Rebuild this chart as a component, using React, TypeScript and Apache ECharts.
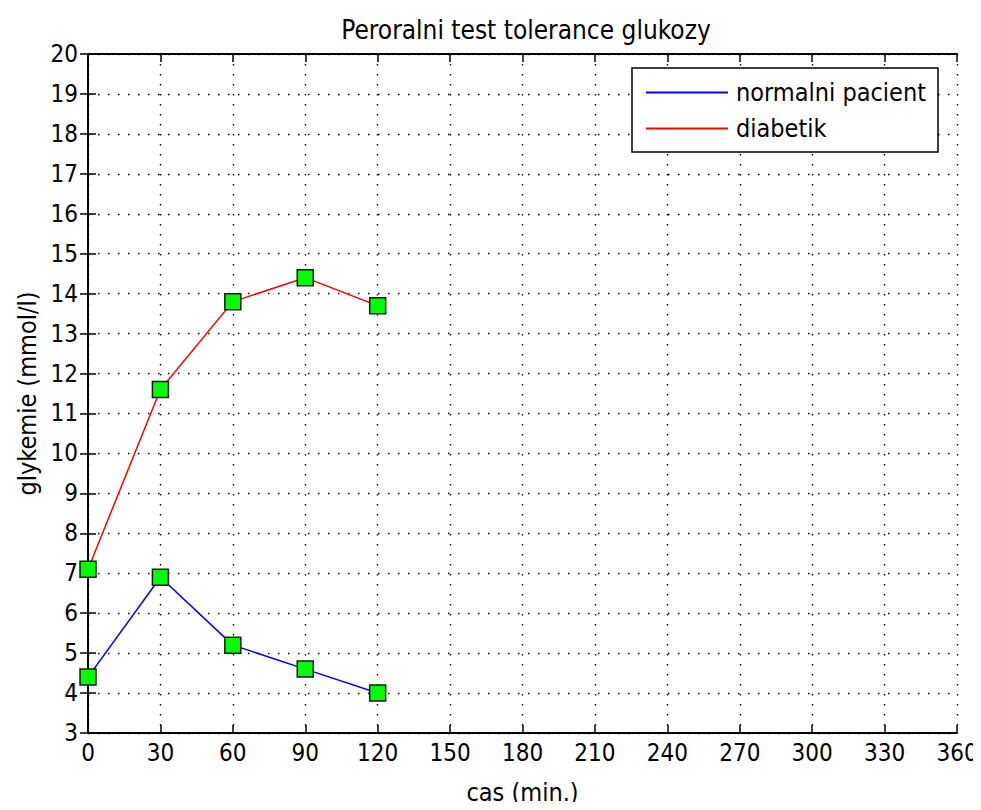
import React, { useEffect, useRef } from "react";
import * as echarts from "echarts";

const timeMinutes = [0, 30, 60, 90, 120];
const normalValues = [4.4, 6.9, 5.2, 4.6, 4.0];
const diabeticValues = [7.1, 11.6, 13.8, 14.4, 13.7];
const seriesNames = ["normalni pacient", "diabetik"];
const titleText = "Peroralni test tolerance glukozy";
const xAxisName = "cas (min.)";
const yAxisName = "glykemie (mmol/l)";

const FONT = "'DejaVu Sans Condensed', 'DejaVu Sans', sans-serif";
const FS = 24;
const FS_TEXT = 25;

export default function App() {
  const ref = useRef<HTMLDivElement>(null);
  useEffect(() => {
    if (!ref.current) return;
    const chart = echarts.init(ref.current, undefined, { renderer: "svg" });
    const axisLine = { show: true, lineStyle: { color: "#000", width: 2 } };
    const axisTick = { show: true, inside: true, length: 8, lineStyle: { color: "#000", width: 1.5 } };
    const gridLine = { show: true, lineStyle: { color: "#000", width: 1.4, type: [1.5, 8.5] } };
    const markerStyle = { color: "#00ff00", borderColor: "#1a1a1a", borderWidth: 1.5 };
    chart.setOption({
      animation: false,
      backgroundColor: "#fff",
      textStyle: { fontFamily: FONT, color: "#000" },
      title: {
        text: titleText,
        left: 521,
        textAlign: "center",
        top: 12,
        textStyle: { fontFamily: FONT, fontSize: FS_TEXT + 1, fontWeight: "normal", color: "#000" },
      },
      grid: { left: 88, top: 54, right: 24, bottom: 71, containLabel: false },
      legend: {
        show: true,
        orient: "vertical",
        left: 632,
        top: 68,
        padding: [12, 12, 11, 14],
        itemGap: 11,
        itemWidth: 82,
        itemHeight: 2,
        borderColor: "#000",
        borderWidth: 1.5,
        backgroundColor: "#fff",
        textStyle: { fontFamily: FONT, fontSize: FS_TEXT, color: "#000", padding: [0, 0, 0, 3] },
        data: [
          { name: seriesNames[0], icon: "rect", itemStyle: { color: "#0000ff", borderWidth: 0 } },
          { name: seriesNames[1], icon: "rect", itemStyle: { color: "#ff0000", borderWidth: 0 } },
        ],
      },
      xAxis: [
        {
          type: "value",
          min: 0,
          max: 360,
          interval: 30,
          position: "bottom",
          name: xAxisName,
          nameLocation: "middle",
          nameGap: 47,
          nameTextStyle: { fontFamily: FONT, fontSize: FS_TEXT, color: "#000" },
          axisLine,
          axisTick,
          axisLabel: { fontFamily: FONT, fontSize: FS, color: "#000", margin: 8 },
          splitLine: gridLine,
        },
        {
          type: "value",
          min: 0,
          max: 360,
          interval: 30,
          position: "top",
          axisLine,
          axisTick,
          axisLabel: { show: false },
          splitLine: { show: false },
        },
      ],
      yAxis: [
        {
          type: "value",
          min: 3,
          max: 20,
          interval: 1,
          position: "left",
          name: yAxisName,
          nameLocation: "middle",
          nameGap: 47,
          nameTextStyle: { fontFamily: FONT, fontSize: FS_TEXT, color: "#000" },
          axisLine,
          axisTick,
          axisLabel: { fontFamily: FONT, fontSize: FS, color: "#000", margin: 10 },
          splitLine: gridLine,
        },
        {
          type: "value",
          min: 3,
          max: 20,
          interval: 1,
          position: "right",
          axisLine,
          axisTick,
          axisLabel: { show: false },
          splitLine: { show: false },
        },
      ],
      series: [
        {
          name: seriesNames[0],
          type: "line",
          data: timeMinutes.map((t, i) => [t, normalValues[i]]),
          lineStyle: { color: "#0000ff", width: 1.5 },
          symbol: "rect",
          symbolSize: 16,
          itemStyle: markerStyle,
          z: 3,
        },
        {
          name: seriesNames[1],
          type: "line",
          data: timeMinutes.map((t, i) => [t, diabeticValues[i]]),
          lineStyle: { color: "#ff0000", width: 1.5 },
          symbol: "rect",
          symbolSize: 16,
          itemStyle: markerStyle,
          z: 3,
        },
      ],
    });
    return () => chart.dispose();
  }, []);
  return <div ref={ref} style={{ width: 981, height: 810, margin: -8 }} />;
}
